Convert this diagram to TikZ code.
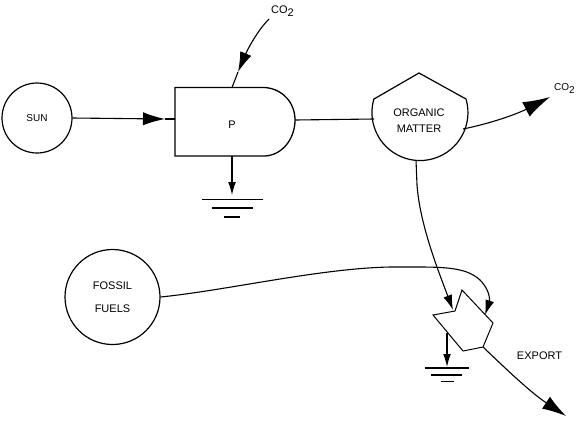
\documentclass[tikz,border=0pt]{standalone}
\usepackage{fontspec}
\setmainfont{Liberation Sans}
\usetikzlibrary{arrows.meta}
\tikzset{
  x=1pt,y=-1pt,
  box/.style={draw=black,line width=1.2pt,fill=none,inner sep=0pt},
  pool/.style={circle,draw=black,line width=1.2pt,align=center,font=\fontsize{10}{12}\selectfont,inner sep=0pt},
  lbl/.style={font=\fontsize{11}{16}\selectfont,align=center,inner sep=0pt},
  wire/.style={draw=black,line width=1.1pt},
  flow/.style={wire,-{Latex[length=#1,width=0.6*#1]}},
  flow/.default=20pt,
  gnd/.style={draw=black,line width=1.6pt}
}
\begin{document}
\begin{tikzpicture}
\useasboundingbox (0,0) rectangle (580,421);
% pools
\node[pool,minimum size=70pt] (sun) at (37,118) {SUN};
\node[pool,minimum size=95pt,font=\fontsize{11}{23}\selectfont] (fossil) at (112.5,297) {FOSSIL\\FUELS};
% producer block
\coordinate (pW) at (175,119);
\coordinate (pN) at (232,87.5);
\coordinate (pS) at (232,156);
\coordinate (pE) at (295,120);
\draw[box,line width=1.3pt] (175,87.5) -- (265,87.5) .. controls (283,89) and (295,103) .. (pE)
  .. controls (295,138) and (283,155) .. (265,156) -- (175,156) -- cycle;
\node[lbl] (p) at (232,125) {P};
% organic matter
\coordinate (oW) at (374,119);
\coordinate (oE) at (463,129);
\coordinate (oS) at (416,160);
\draw[box] (374,99) -- (419,73) -- (466,99)
  arc[start angle=-16.4,end angle=196.4,radius=48] -- cycle;
\node[lbl] (om) at (419,121) {ORGANIC\\MATTER};
% export pentagon
\coordinate (xA) at (453,310);
\coordinate (xB) at (485,315);
\coordinate (xC) at (447,333);
\coordinate (xD) at (483,347);
\draw[box,line width=1pt] (433,315) -- (455,311) -- (462,290) -- (493,323) -- (xD) -- (463,351) -- cycle;
% labels
\node[lbl] (export) at (539.5,356) {EXPORT};
\node[lbl,anchor=west] (co2a) at (271,11) {CO\raisebox{-3.5pt}{2}};
\node[lbl,anchor=west,font=\fontsize{10}{12}\selectfont] (co2b) at (554,88.5) {CO\raisebox{-3.5pt}{2}};
% grounds
\coordinate (g1) at (232,195);
\coordinate (g2) at (447,367);
\draw[gnd] (202,199.5) -- (263,199.5) (212,208) -- (253,208) (224,217) -- (240,217);
\draw[gnd] (425,368) -- (469,368) (431,375) -- (462,375) (441,381.5) -- (454,381.5);
% connectors
\coordinate (t1) at (165,119);
\draw[flow=22pt] (sun.east) -- (t1);
\draw[wire] (t1) -- (pW);
\draw[wire] (pE) -- (oW);
\coordinate (t2) at (238,72);
\draw[flow=20pt] (269,19) .. controls (256,32) and (246,53) .. (t2);
\draw[wire] (t2) -- (pN);
\draw[flow=13pt] (pS) -- (g1);
\draw[flow=27pt] (oE) .. controls (488,124) and (515,115) .. (550,97);
\draw[flow=15pt] (oS) -- (417,185) .. controls (420,225) and (438,270) .. (xA);
\draw[flow=15pt] (fossil.east) .. controls (230,290) and (330,266) .. (400,267)
  .. controls (440,267) and (465,266) .. (480,280) .. controls (492,292) and (489,303) .. (xB);
\draw[flow=13pt] (xC) -- (g2);
\draw[flow=24pt] (xD) .. controls (505,368) and (530,392) .. (566,416);
\end{tikzpicture}
\end{document}
